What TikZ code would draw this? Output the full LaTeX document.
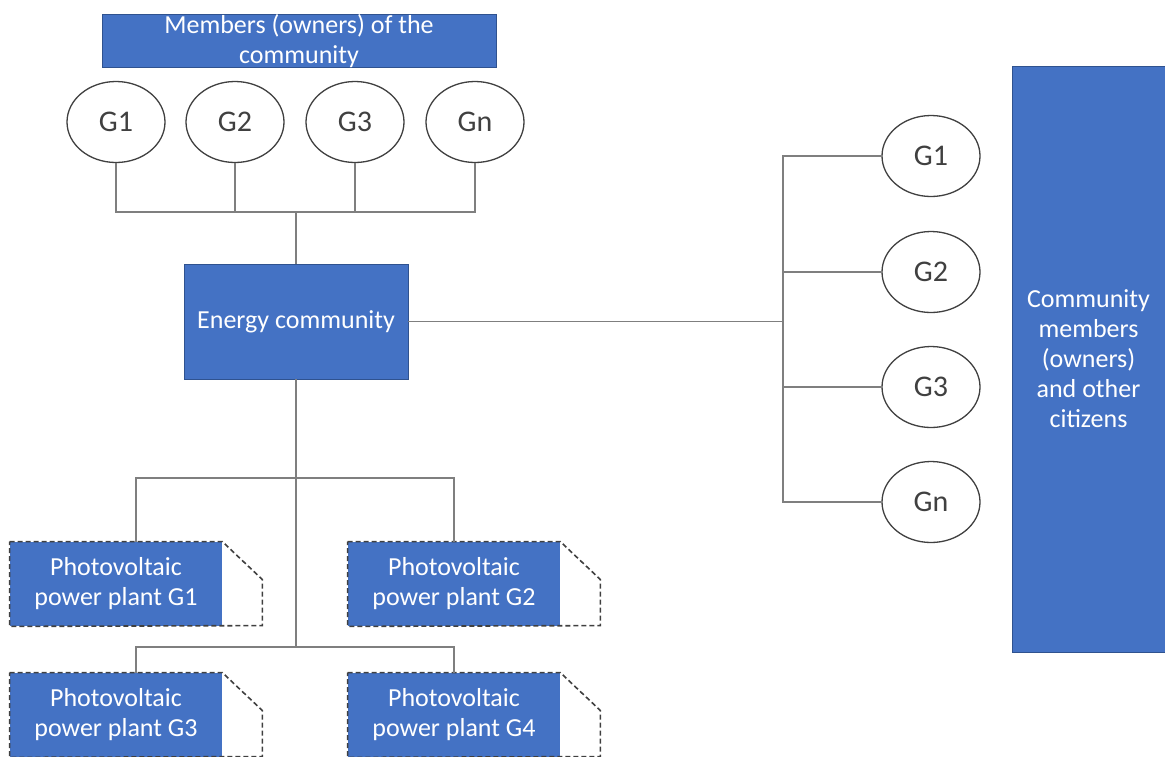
\documentclass[tikz,border=0pt]{standalone}
\usepackage{fontspec}
\setmainfont{Carlito}
\usetikzlibrary{shapes.geometric}
\definecolor{boxblue}{HTML}{4472C4}
\definecolor{boxedge}{HTML}{2F528F}
\definecolor{wire}{HTML}{7F7F7F}
\definecolor{ink}{HTML}{404040}
\begin{document}
\begin{tikzpicture}[x=1pt,y=-1pt,
  bluebox/.style={rectangle,fill=boxblue,draw=boxedge,line width=0.8pt,text=white,
    align=center,inner sep=0pt,font=\fontsize{26}{30}\selectfont},
  member/.style={ellipse,draw=ink,line width=1.3pt,fill=white,text=ink,
    minimum width=98pt,minimum height=81pt,inner sep=0pt,
    font=\fontsize{30}{34}\selectfont},
  pvbox/.style={bluebox,draw=none,minimum width=212pt,minimum height=84pt},
  fold/.style={draw=ink,line width=1.6pt,dash pattern=on 5pt off 3pt},
  wireline/.style={draw=wire,line width=1.3pt}]
\useasboundingbox (0,0) rectangle (1165,756);

% header and side boxes
\node[bluebox,minimum width=394pt,minimum height=52pt] (owners) at (299,41)
  {Members (owners) of the\\community};
\node[bluebox,minimum width=153pt,minimum height=586pt] (citizens) at (1088.5,359)
  {Community\\members\\(owners)\\and other\\citizens};

% the energy community itself
\node[bluebox,minimum width=224pt,minimum height=115pt] (ec) at (296,321.5) {Energy community};

% members on top
\node[member] (t1) at (116,122) {G1};
\node[member] (t2) at (235,122) {G2};
\node[member] (t3) at (355,122) {G3};
\node[member] (tn) at (475,122) {Gn};

% members on the right
\node[member] (r1) at (931,156) {G1};
\node[member] (r2) at (931,272) {G2};
\node[member] (r3) at (931,387) {G3};
\node[member] (rn) at (931,502) {Gn};

% photovoltaic plants
\node[pvbox] (pv1) at (116,584) {Photovoltaic\\power plant G1};
\node[pvbox] (pv2) at (454,584) {Photovoltaic\\power plant G2};
\node[pvbox] (pv3) at (116,715) {Photovoltaic\\power plant G3};
\node[pvbox] (pv4) at (454,715) {Photovoltaic\\power plant G4};

% folded dashed outlines of the plants
\foreach \p in {pv1,pv2,pv3,pv4}{
  \draw[fold] (\p.north west) -- (\p.north east) -- ++(40,38) -- ++(0,46)
    -- (\p.south west) -- cycle;
}

% junction points
\coordinate (topbus) at (296,212);
\coordinate (rbus) at (783,321.5);
\coordinate (busA) at (296,478);
\coordinate (busB) at (296,647);
\coordinate (tapA) at (136,478);
\coordinate (tapB) at (136,647);

% top tree
\draw[wireline] (t1.south) -- (t1.south |- topbus) -- (tn.south |- topbus) -- (tn.south);
\draw[wireline] (t2.south) -- (t2.south |- topbus);
\draw[wireline] (t3.south) -- (t3.south |- topbus);
\draw[wireline] (topbus) -- (ec.north);

% right tree
\draw[wireline] (ec.east) -- (rbus);
\draw[wireline] (r1.west) -- (r1.west -| rbus) -- (rn.west -| rbus) -- (rn.west);
\draw[wireline] (r2.west) -- (r2.west -| rbus);
\draw[wireline] (r3.west) -- (r3.west -| rbus);

% bottom tree
\draw[wireline] (ec.south) -- (busB);
\draw[wireline] (tapA |- pv1.north) -- (tapA) -- (busA -| pv2.north) -- (pv2.north);
\draw[wireline] (tapB |- pv3.north) -- (tapB) -- (busB -| pv4.north) -- (pv4.north);
\end{tikzpicture}
\end{document}
